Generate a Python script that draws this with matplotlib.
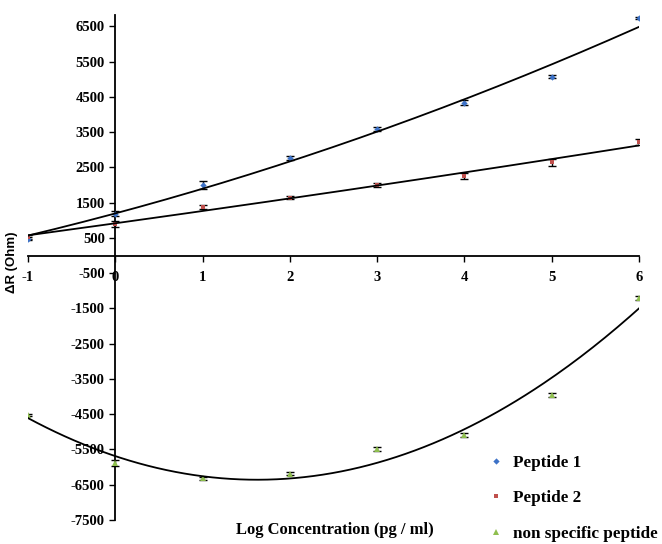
import numpy as np
import matplotlib
matplotlib.use("Agg")
import matplotlib.pyplot as plt

log_conc = [-1, 0, 1, 2, 3, 4, 5, 6]

pep1 = [480, 1190, 2010, 2765, 3580, 4330, 5065, 6745]
pep1_err = [50, 60, 110, 60, 50, 70, 40, 30]

pep2 = [530, 885, 1385, 1640, 2000, 2260, 2640, 3220]
pep2_err = [50, 90, 60, 50, 50, 90, 110, 90]

nonspec = [-4530, -5880, -6320, -6190, -5480, -5100, -3945, -1205]
nonspec_err = [30, 80, 50, 40, 50, 60, 60, 50]

yticks = list(range(-7500, 7000, 1000))

plt.rcParams["axes.unicode_minus"] = False

W, H = 662, 544
fig = plt.figure(figsize=(W / 100, H / 100), dpi=100)
ax = fig.add_axes([28 / W, 1 - 520 / H, (639 - 28) / W, (520 - 15) / H])

serif = "Liberation Serif"
series = [
    (pep1, pep1_err, "#3d72c7", "D", 3.2, "Peptide 1"),
    (pep2, pep2_err, "#c0504d", "s", 3.4, "Peptide 2"),
    (nonspec, nonspec_err, "#8fbf4f", "^", 3.8, "non specific peptide"),
]

xs = np.array(log_conc, dtype=float)
xfit = np.linspace(-1, 6, 200)
for vals, err, col, mk, ms, lab in series:
    ax.errorbar(xs, vals, yerr=err, fmt="none", ecolor="black", elinewidth=1.0,
                capsize=3, capthick=1.0, zorder=2)
    ax.plot(xs, vals, linestyle="none", marker=mk, color=col, markersize=ms,
            markeredgewidth=0, label=lab, zorder=3)
    # second-order trendline through each series
    coef = np.polyfit(xs, vals, 2)
    ax.plot(xfit, np.polyval(coef, xfit), color="black", linewidth=1.3, zorder=4)

ax.set_xlim(-1, 6)
ax.set_ylim(-7500, 6820)
ax.spines["left"].set_position(("data", 0))
ax.spines["bottom"].set_position(("data", 0))
ax.spines["top"].set_visible(False)
ax.spines["right"].set_visible(False)
for s in ("left", "bottom"):
    ax.spines[s].set_linewidth(1.3)

ax.set_yticks(yticks)
ax.set_xticks(log_conc)
ax.tick_params(axis="both", direction="out", length=4, width=1.0)
ax.tick_params(axis="x", pad=7)
for t in ax.get_xticklabels() + ax.get_yticklabels():
    t.set_fontfamily(serif)
    t.set_fontweight("bold")
    t.set_fontsize(10.5)

fig.text(335 / W, 1 - 530 / H, "Log Concentration (pg / ml)", ha="center",
         va="center", fontfamily=serif, fontweight="bold", fontsize=12)
fig.text(12 / W, 1 - 262 / H, "ΔR (Ohm)", ha="center", va="center",
         rotation=90, fontfamily="Liberation Sans", fontweight="bold", fontsize=9.5)

leg = ax.legend(loc="lower left", bbox_to_anchor=(475 / W, -10 / H),
                bbox_transform=fig.transFigure, frameon=False, handlelength=1.0,
                handletextpad=0.5, labelspacing=1.15, markerscale=1.0,
                borderpad=0.2, prop={"family": serif, "weight": "bold", "size": 12.3})

fig.savefig("out.png", dpi=100)
